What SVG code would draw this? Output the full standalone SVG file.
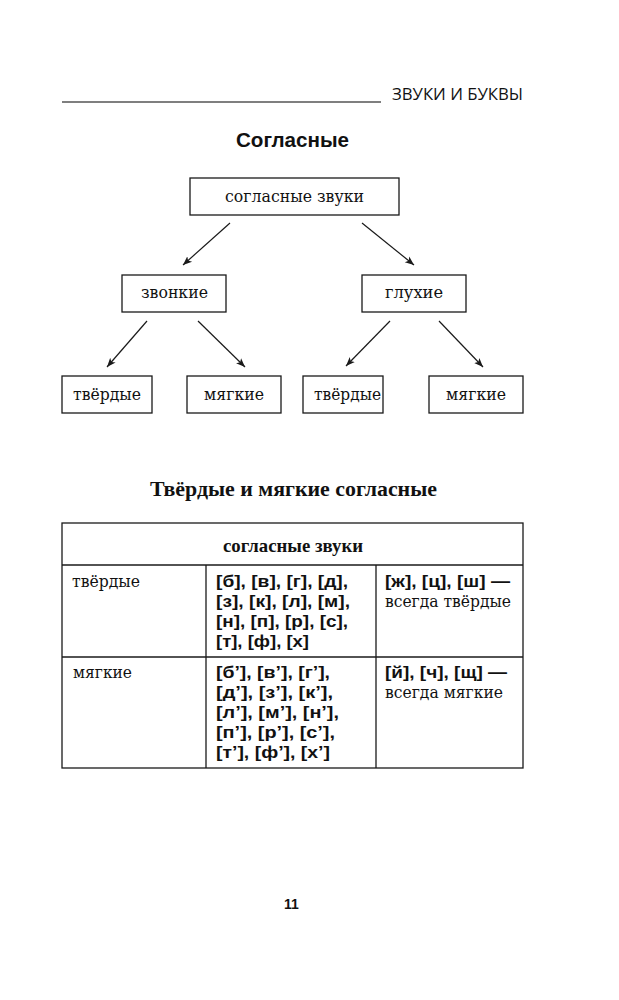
<svg xmlns="http://www.w3.org/2000/svg" width="619" height="1000" viewBox="0 0 619 1000">
<defs>
<style>
.box{fill:#fff;stroke:#1a1a1a;stroke-width:1.3}
.conn{stroke:#1a1a1a;stroke-width:1.2;fill:none;marker-end:url(#ah)}
.ser{font-family:"DejaVu Serif","Liberation Serif",serif;font-size:17px;fill:#111}
.serb{font-family:"Liberation Serif","DejaVu Serif",serif;font-weight:bold;fill:#111}
.sb{font-family:"Liberation Sans",Arial,sans-serif;font-weight:bold;font-size:16px;fill:#111}
.grid{stroke:#1a1a1a;stroke-width:1.3;fill:none}
</style>
<marker id="ah" viewBox="0 0 10 10" refX="10" refY="5" markerWidth="9" markerHeight="9" markerUnits="userSpaceOnUse" orient="auto">
<path d="M0,1 L10,5 L0,9 L2.5,5 Z" fill="#1a1a1a"/>
</marker>
</defs>
<rect width="619" height="1000" fill="#fff"/>

<g id="header">
<line x1="62" y1="102" x2="381" y2="102" stroke="#555" stroke-width="1.5"/>
<text x="392" y="100" font-family="'Open Sans','Liberation Sans',sans-serif" font-size="16" fill="#111" textLength="131" lengthAdjust="spacingAndGlyphs">ЗВУКИ И БУКВЫ</text>
</g>

<text x="292.5" y="147" text-anchor="middle" font-family="'Liberation Sans',Arial,sans-serif" font-weight="bold" font-size="19.5" fill="#111" textLength="113" lengthAdjust="spacingAndGlyphs">Согласные</text>

<g id="connectors">
<line class="conn" x1="230" y1="223" x2="183" y2="265"/>
<line class="conn" x1="362" y1="223" x2="414" y2="265"/>
<line class="conn" x1="147" y1="321" x2="107" y2="367"/>
<line class="conn" x1="198" y1="321" x2="245" y2="367"/>
<line class="conn" x1="390" y1="321" x2="346" y2="366"/>
<line class="conn" x1="439" y1="321" x2="483" y2="367"/>
</g>

<g id="n-root">
<rect class="box" x="190" y="178" width="209" height="37"/>
<text class="ser" x="225" y="202" textLength="139" lengthAdjust="spacingAndGlyphs">согласные звуки</text>
</g>
<g id="n-zvonkie">
<rect class="box" x="122" y="275" width="104" height="37"/>
<text class="ser" x="141" y="298" textLength="67" lengthAdjust="spacingAndGlyphs">звонкие</text>
</g>
<g id="n-gluhie">
<rect class="box" x="362" y="275" width="104" height="37"/>
<text class="ser" x="385" y="298" textLength="58" lengthAdjust="spacingAndGlyphs">глухие</text>
</g>
<g id="n-tv1">
<rect class="box" x="62" y="376" width="90" height="37"/>
<text class="ser" x="73" y="400" textLength="68" lengthAdjust="spacingAndGlyphs">твёрдые</text>
</g>
<g id="n-mj1">
<rect class="box" x="187" y="376" width="94" height="37"/>
<text class="ser" x="204" y="400" textLength="60" lengthAdjust="spacingAndGlyphs">мягкие</text>
</g>
<g id="n-tv2">
<rect class="box" x="303" y="376" width="80" height="37"/>
<text class="ser" x="314" y="400" textLength="67" lengthAdjust="spacingAndGlyphs">твёрдые</text>
</g>
<g id="n-mj2">
<rect class="box" x="429" y="376" width="94" height="37"/>
<text class="ser" x="446" y="400" textLength="60" lengthAdjust="spacingAndGlyphs">мягкие</text>
</g>

<text class="serb" x="150" y="496" font-size="22" textLength="287" lengthAdjust="spacingAndGlyphs">Твёрдые и мягкие согласные</text>

<g id="table">
<rect class="grid" x="62" y="523" width="461" height="245"/>
<line class="grid" x1="62" y1="565" x2="523" y2="565"/>
<line class="grid" x1="62" y1="657" x2="523" y2="657"/>
<line class="grid" x1="206" y1="565" x2="206" y2="768"/>
<line class="grid" x1="376" y1="565" x2="376" y2="768"/>
<text class="serb" x="223" y="552" font-size="19" textLength="140" lengthAdjust="spacingAndGlyphs">согласные звуки</text>

<text class="ser" x="72" y="587" textLength="68" lengthAdjust="spacingAndGlyphs">твёрдые</text>
<text class="sb" x="216" y="587" textLength="132" lengthAdjust="spacingAndGlyphs">[б], [в], [г], [д],</text>
<text class="sb" x="216" y="607" textLength="134" lengthAdjust="spacingAndGlyphs">[з], [к], [л], [м],</text>
<text class="sb" x="216" y="627" textLength="132" lengthAdjust="spacingAndGlyphs">[н], [п], [р], [с],</text>
<text class="sb" x="216" y="647" textLength="93" lengthAdjust="spacingAndGlyphs">[т], [ф], [х]</text>
<text class="sb" x="385" y="587" textLength="125" lengthAdjust="spacingAndGlyphs">[ж], [ц], [ш] —</text>
<text class="ser" x="385" y="607" textLength="126" lengthAdjust="spacingAndGlyphs">всегда твёрдые</text>

<text class="ser" x="73" y="678" textLength="59" lengthAdjust="spacingAndGlyphs">мягкие</text>
<text class="sb" x="216" y="678" textLength="114" lengthAdjust="spacingAndGlyphs">[б’], [в’], [г’],</text>
<text class="sb" x="216" y="698" textLength="117" lengthAdjust="spacingAndGlyphs">[д’], [з’], [к’],</text>
<text class="sb" x="216" y="718" textLength="123" lengthAdjust="spacingAndGlyphs">[л’], [м’], [н’],</text>
<text class="sb" x="216" y="738" textLength="119" lengthAdjust="spacingAndGlyphs">[п’], [р’], [с’],</text>
<text class="sb" x="216" y="758" textLength="114" lengthAdjust="spacingAndGlyphs">[т’], [ф’], [х’]</text>
<text class="sb" x="385" y="678" textLength="122" lengthAdjust="spacingAndGlyphs">[й], [ч], [щ] —</text>
<text class="ser" x="385" y="698" textLength="118" lengthAdjust="spacingAndGlyphs">всегда мягкие</text>
</g>

<text x="291.5" y="909" text-anchor="middle" font-family="'Liberation Sans',Arial,sans-serif" font-weight="bold" font-size="14" fill="#111">11</text>
</svg>
